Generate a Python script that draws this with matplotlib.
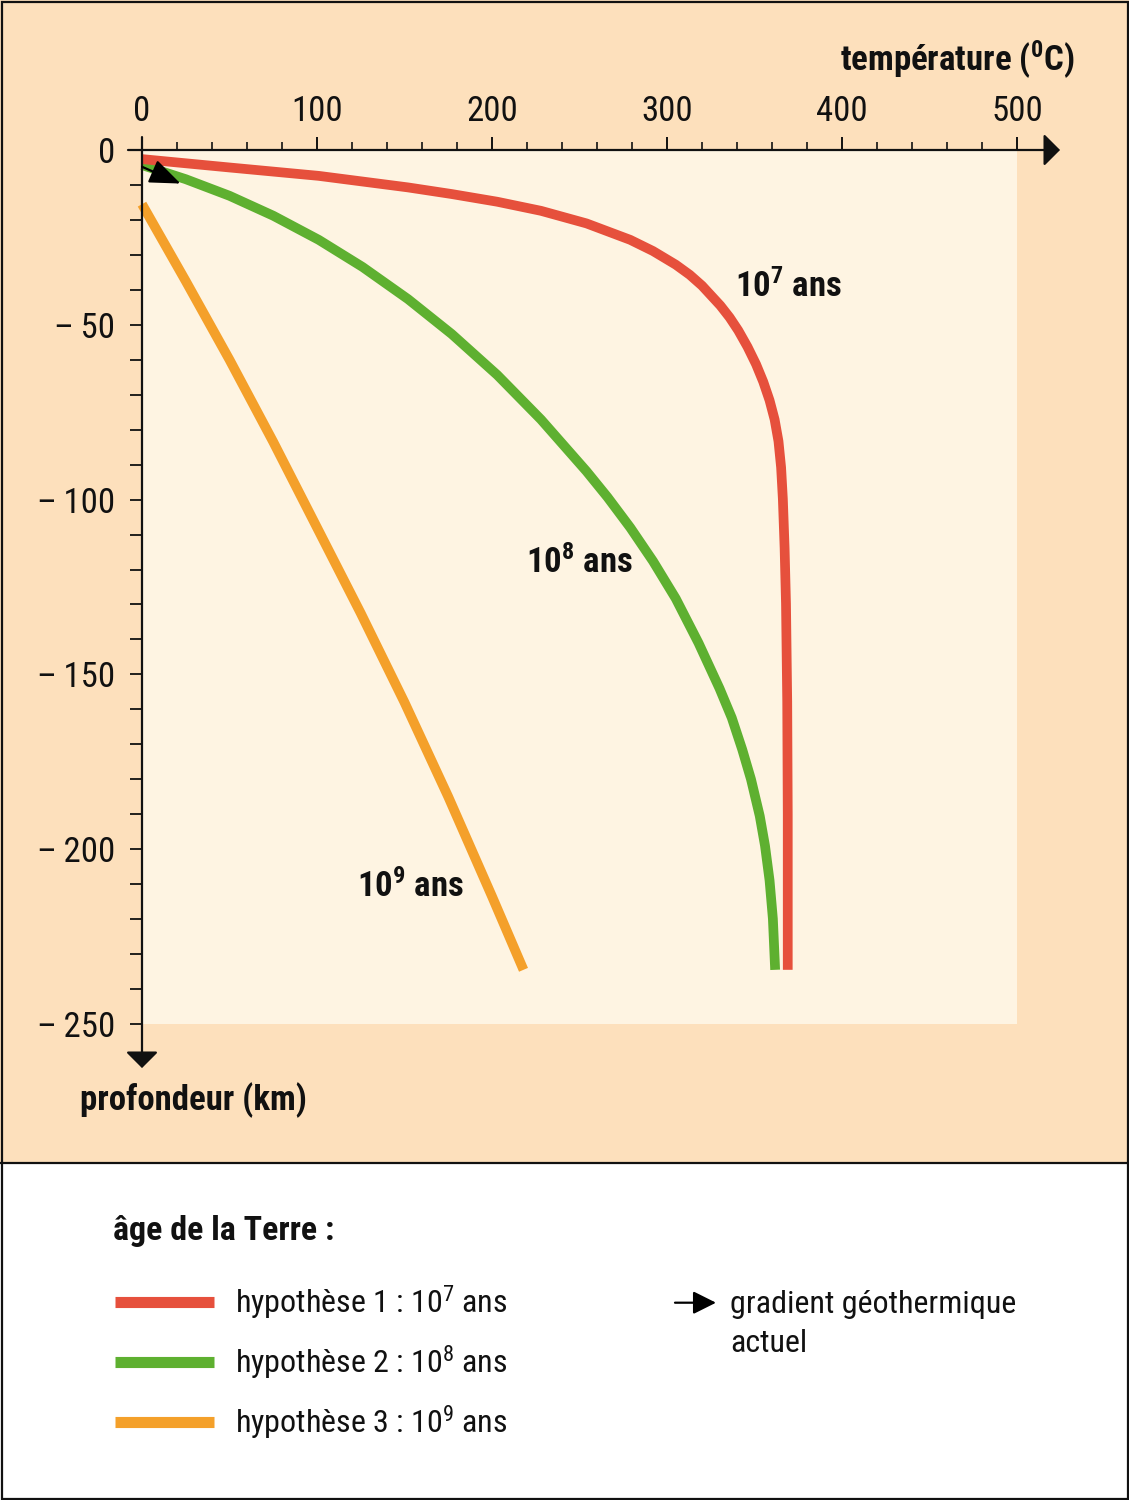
import matplotlib
matplotlib.use('Agg')
import matplotlib.pyplot as plt
from matplotlib import font_manager as fm
from matplotlib.patches import Rectangle
from matplotlib.lines import Line2D
from matplotlib.ticker import MultipleLocator, FixedLocator, FixedFormatter

_names = {f.name for f in fm.fontManager.ttflist}
_pref = ['Roboto Condensed', 'Liberation Sans Narrow', 'Roboto']
MAIN = next((p for p in _pref if p in _names), 'DejaVu Sans')
plt.rcParams['font.family'] = [MAIN, 'DejaVu Sans']
plt.rcParams['mathtext.default'] = 'regular'

# ---------------- data ----------------
red_T = [0, 50, 101, 152, 177, 203, 228, 254, 279, 292, 305, 313, 320, 330.5,
         335.8, 340.7, 346, 350.9, 355, 358.6, 361.5, 363.7, 365.2, 366.2, 367.2,
         368.0, 368.7, 369.0, 369.0]
red_depth = [-2.6, -5.0, -7.4, -10.7, -12.6, -14.8, -17.4, -21.0, -25.7, -28.9,
             -32.8, -35.7, -38.8, -44.5, -47.9, -51.6, -56.3, -61.3, -66.3, -71.6,
             -77.1, -83.3, -90.8, -99.8, -113.8, -129.8, -157.8, -190.0, -234.5]

green_T = [0, 25, 50, 75, 101, 126, 152, 177, 203, 228, 254, 266, 279, 292, 305,
           318, 330, 337, 343, 348, 353, 356, 358.6, 360.5, 361.8]
green_depth = [-4.3, -8.35, -13.1, -18.8, -25.7, -33.45, -42.65, -52.65, -64.35,
               -77.1, -91.9, -99.3, -108.0, -117.6, -128.3, -141.0, -154.0, -162.4,
               -171.5, -180.0, -190.5, -199.0, -208.9, -219.9, -234.5]

orange_T = [0, 25, 50, 75, 100, 125, 150, 175, 200, 218]
orange_depth = [-15.5, -37.5, -60, -83.5, -108, -132.5, -158, -185, -213.5, -234.5]

grad_T = [0, 22]
grad_depth = [-4.8, -9.6]

series_labels = ['hypothèse 1 : 10$^{7}$ ans', 'hypothèse 2 : 10$^{8}$ ans',
                 'hypothèse 3 : 10$^{9}$ ans']
curve_tags = ['10$^{7}$ ans', '10$^{8}$ ans', '10$^{9}$ ans']
x_ticks = [0, 100, 200, 300, 400, 500]
y_ticks = [0, -50, -100, -150, -200, -250]
y_ticklabels = ['0', '\u2013\u200950', '\u2013\u2009100', '\u2013\u2009150',
                '\u2013\u2009200', '\u2013\u2009250']

RED = '#e6503c'
GREEN = '#5eb030'
ORANGE = '#f4a02a'
PEACH = '#fde0bc'
INNER = '#fef4e2'
INK = '#111111'

W, H = 1129, 1500
fig = plt.figure(figsize=(W / 100, H / 100), dpi=100)
fig.patch.set_facecolor('white')

# decoration layer in pixel coordinates
bg = fig.add_axes([0, 0, 1, 1])
bg.set_xlim(0, W)
bg.set_ylim(H, 0)
bg.axis('off')
bg.set_zorder(0)
bg.add_patch(Rectangle((0, 0), W, 1163, facecolor=PEACH, edgecolor='none'))
bg.add_patch(Rectangle((1.5, 1.5), W - 3, H - 3, facecolor='none',
                       edgecolor=INK, lw=1.6))
bg.plot([0, W], [1163, 1163], color=INK, lw=1.6)

# main chart
ax = fig.add_axes([142 / W, 1 - 1024 / H, 875 / W, 874 / H])
ax.set_zorder(1)
ax.set_facecolor(INNER)
ax.set_xlim(0, 500)
ax.set_ylim(-250, 0)
for s in ax.spines.values():
    s.set_visible(False)

ax.xaxis.tick_top()
ax.xaxis.set_major_locator(FixedLocator(x_ticks))
ax.xaxis.set_minor_locator(MultipleLocator(20))
ax.yaxis.set_major_locator(FixedLocator(y_ticks))
ax.yaxis.set_major_formatter(FixedFormatter(y_ticklabels))
ax.yaxis.set_minor_locator(MultipleLocator(10))
ax.tick_params(axis='x', which='major', direction='out', length=9.6, width=1.4,
               pad=6, labelsize=25, colors=INK)
ax.tick_params(axis='x', which='minor', direction='out', length=6, width=1.2,
               colors=INK)
ax.tick_params(axis='y', which='both', direction='out', length=8.6, width=1.3,
               colors=INK)
ax.tick_params(axis='y', which='major', pad=11, labelsize=25)

# axis lines with arrowheads
for start, end in [((-8, 0), (524.6, 0)), ((0, 3.7), (0, -262.6))]:
    ax.annotate('', xy=end, xytext=start, xycoords='data', annotation_clip=False,
                arrowprops=dict(arrowstyle='-|>,head_length=1,head_width=1',
                                mutation_scale=10, lw=1.6, color=INK,
                                shrinkA=0, shrinkB=0))

# temperature profiles
for xs, ys, c in [(orange_T, orange_depth, ORANGE), (green_T, green_depth, GREEN),
                  (red_T, red_depth, RED)]:
    ax.plot(xs, ys, color=c, lw=7, solid_capstyle='butt',
            solid_joinstyle='round', clip_on=False)

# present-day geothermal gradient
ax.annotate('', xy=(grad_T[1], grad_depth[1]), xytext=(grad_T[0], grad_depth[0]),
            annotation_clip=False,
            arrowprops=dict(arrowstyle='-|>,head_length=1.9,head_width=0.75',
                            mutation_scale=10, lw=1.6, color='black',
                            shrinkA=0, shrinkB=0))

# curve tags
tag_pos = [(338.9, -42.0), (219.4, -121.0), (122.6, -213.6)]
for (tx, ty), t in zip(tag_pos, curve_tags):
    ax.text(tx, ty, t, fontsize=25, fontweight='bold', ha='left', va='baseline',
            color=INK)

# axis titles
bg.text(1075, 71, 'température ($^{0}$C)', fontsize=25, fontweight='bold',
        ha='right', va='baseline', color=INK)
bg.text(80, 1110, 'profondeur (km)', fontsize=25, fontweight='bold',
        ha='left', va='baseline', color=INK)

# legend
bg.text(113, 1240, 'âge de la Terre :', fontsize=24.5, fontweight='bold',
        ha='left', va='baseline', color=INK)
leg_y = [1302, 1361.7, 1421.7]
for yy, c, lab in zip(leg_y, [RED, GREEN, ORANGE], series_labels):
    bg.add_line(Line2D([115, 214], [yy, yy], color=c, lw=8, solid_capstyle='butt'))
    bg.text(235, yy + 11.5, lab, fontsize=23, ha='left', va='baseline', color=INK)

bg.annotate('', xy=(716, 1302.7), xytext=(675, 1302.7), xycoords='data',
            arrowprops=dict(arrowstyle='-|>,head_length=1,head_width=0.5',
                            mutation_scale=14, lw=1.6, color='black',
                            shrinkA=0, shrinkB=0))
bg.text(730, 1313, 'gradient géothermique', fontsize=23, ha='left',
        va='baseline', color=INK)
bg.text(730, 1352, 'actuel', fontsize=23, ha='left', va='baseline', color=INK)

fig.savefig('out.png', dpi=100, facecolor=fig.get_facecolor())
